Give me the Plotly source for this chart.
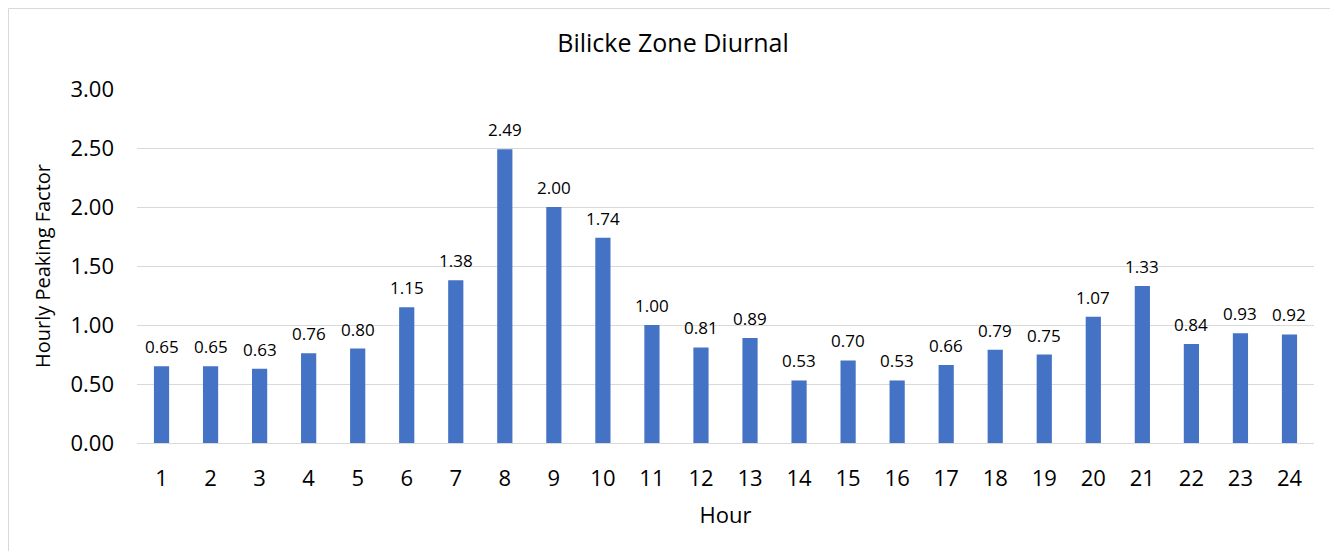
import plotly.graph_objects as go

hours = list(range(1, 25))
factors = [0.65, 0.65, 0.63, 0.76, 0.80, 1.15, 1.38, 2.49, 2.00, 1.74, 1.00, 0.81,
           0.89, 0.53, 0.70, 0.53, 0.66, 0.79, 0.75, 1.07, 1.33, 0.84, 0.93, 0.92]
y_ticks = [0, 0.5, 1.0, 1.5, 2.0, 2.5, 3.0]

FONT = "Open Sans, Liberation Sans, sans-serif"

W, H = 1330, 543
L, T = 129, 81
PW, PH = 1177, 354

fig = go.Figure(go.Bar(
    x=hours, y=factors,
    marker=dict(color="#4472C4", line=dict(width=0)),
    cliponaxis=False,
))

annotations = [dict(x=h, y=v, xref="x", yref="y", text=f"{v:.2f}", showarrow=False,
                    xanchor="center", yanchor="bottom", yshift=6,
                    font=dict(family=FONT, size=17, color="#000000"))
               for h, v in zip(hours, factors)]

fig.update_layout(
    width=W, height=H,
    margin=dict(l=L, r=W - L - PW, t=T, b=H - T - PH),
    paper_bgcolor="white", plot_bgcolor="white",
    bargap=0.69,
    showlegend=False,
    font=dict(family=FONT, color="#000000"),
    title=dict(text="Bilicke Zone Diurnal", x=0.5, xanchor="center",
               y=1 - 35 / H, yanchor="middle",
               font=dict(family=FONT, size=25, color="#000000")),
    xaxis=dict(
        range=[hours[0] - 0.5, hours[-1] + 0.5], tickvals=hours,
        showgrid=False, showline=True, linecolor="#D9D9D9", linewidth=1, zeroline=False,
        ticks="", tickfont=dict(family=FONT, size=22), ticklabelstandoff=16,
        title=dict(text="Hour", font=dict(family=FONT, size=22), standoff=16),
    ),
    yaxis=dict(
        range=[0, 3], tickvals=y_ticks, tickformat=".2f",
        showgrid=True, gridcolor="#D9D9D9", gridwidth=1, zeroline=False,
        ticks="", tickfont=dict(family=FONT, size=22), ticklabelstandoff=22,
        title=dict(text="Hourly Peaking Factor", font=dict(family=FONT, size=20), standoff=14),
    ),
    annotations=annotations,
    shapes=[dict(type="rect", xref="paper", yref="paper",
                 x0=(0.5 - L) / PW, x1=(1327.5 - L) / PW,
                 y0=(T + PH - 560) / PH, y1=(T + PH - 0.5) / PH,
                 line=dict(color="#D9D9D9", width=1), fillcolor="rgba(0,0,0,0)",
                 layer="below")],
)

fig.write_html("out.html")
